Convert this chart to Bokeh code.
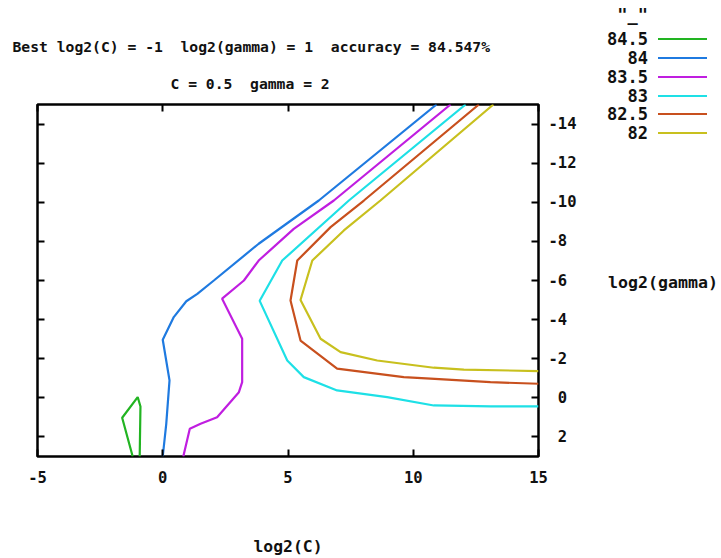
from bokeh.plotting import figure
from bokeh.layouts import row
from bokeh.models import Range1d, LinearAxis, FixedTicker, Title, Div
from bokeh.embed import file_html
from bokeh.resources import INLINE

# ---- data (log2(C), log2(gamma)) ----
levels = ["84.5", "84", "83.5", "83", "82.5", "82"]
colors = ["#22b422", "#1f7ae0", "#c01ee0", "#1ee0e6", "#c8501e", "#c8c01e"]

c845_x = [-1.2, -1.62, -1.0, -0.89, -0.92]
c845_y = [3.0, 1.02, -0.04, 0.44, 3.0]

c84_x = [0.0, 0.14, 0.27, 0.0, 0.44, 0.94, 1.38, 2.04, 3.83, 6.23, 10.93]
c84_y = [3.0, 1.33, -0.89, -2.97, -4.13, -4.94, -5.32, -6.0, -7.88, -10.09, -15.0]

c835_x = [0.82, 1.08, 1.51, 2.17, 3.04, 3.17, 3.17, 2.37, 3.24, 3.83, 5.23, 6.83, 11.49]
c835_y = [3.0, 1.58, 1.33, 0.99, -0.29, -0.8, -3.02, -5.07, -6.0, -7.02, -8.64, -10.09, -15.0]

c83_x = [15.0, 13.1, 10.82, 8.96, 6.96, 5.63, 4.97, 3.87, 4.77, 7.43, 12.09]
c83_y = [0.44, 0.44, 0.39, -0.04, -0.38, -1.06, -1.91, -4.96, -7.02, -10.09, -15.0]

c825_x = [15.0, 13.08, 10.69, 9.62, 6.96, 5.5, 5.1, 5.37, 6.7, 8.03, 12.62]
c825_y = [-0.72, -0.8, -0.98, -1.06, -1.49, -2.93, -4.98, -7.02, -8.73, -10.09, -15.0]

c82_x = [15.0, 12.02, 10.82, 8.56, 7.10, 6.30, 5.5, 5.97, 7.23, 8.69, 13.2]
c82_y = [-1.37, -1.44, -1.54, -1.91, -2.34, -3.02, -5.0, -7.02, -8.56, -10.09, -15.0]

x_ticks = [-5, 0, 5, 10, 15]
x_tick_labels = ["-5", "0", "5", "10", "15"]
y_ticks = [-14, -12, -10, -8, -6, -4, -2, 0, 2]
y_tick_labels = ["-14", "-12", "-10", "-8", "-6", "-4", "-2", "0", "2"]

title1 = "Best log2(C) = -1  log2(gamma) = 1  accuracy = 84.547%"
title2 = "C = 0.5  gamma = 2"
xlabel = "log2(C)"
ylabel = "log2(gamma)"
legend_title = '"_"'

FONT = "DejaVu Sans Mono"
TXT = "#111111"


def keep_spaces(s):
    # SVG collapses runs of spaces; keep gnuplot's double spacing visible
    return s.replace("  ", "\u00a0 ")


p = figure(width=590, height=558, x_range=Range1d(-5, 15), y_range=Range1d(3, -15),
           output_backend="svg", toolbar_location=None,
           x_axis_location=None, y_axis_location=None,
           min_border_left=37, min_border_right=52, min_border_top=104, min_border_bottom=102)
p.grid.visible = False
p.outline_line_color = "black"
p.outline_line_width = 2.5
p.background_fill_color = "white"
p.border_fill_color = "white"


def style_axis(ax, show):
    ax.axis_line_color = None
    ax.major_tick_line_color = "black"
    ax.major_tick_line_width = 2
    ax.major_tick_in = 7
    ax.major_tick_out = 0
    ax.minor_tick_line_color = None
    ax.major_label_text_font = FONT
    ax.major_label_text_font_style = "bold"
    ax.major_label_text_font_size = "15.5px" if show else "0px"
    ax.major_label_text_color = TXT
    if not show:
        ax.major_label_standoff = 0


def centred(s, width=3):
    # gnuplot centres the right-hand tick labels; pad short ones (monospace font)
    pad = (width - len(s)) // 2
    return "\u00a0" * pad + s


xb = LinearAxis(ticker=FixedTicker(ticks=x_ticks),
                major_label_overrides={t: s for t, s in zip(x_ticks, x_tick_labels)})
style_axis(xb, True)
xb.major_label_standoff = 14
xb.axis_label = xlabel
xb.axis_label_text_font = FONT
xb.axis_label_text_font_style = "bold"
xb.axis_label_text_font_size = "16.4px"
xb.axis_label_text_color = TXT
xb.axis_label_standoff = 51
p.add_layout(xb, "below")

xt = LinearAxis(ticker=FixedTicker(ticks=x_ticks),
                major_label_overrides={t: "" for t in x_ticks})
style_axis(xt, False)
p.add_layout(xt, "above")

yr = LinearAxis(ticker=FixedTicker(ticks=y_ticks),
                major_label_overrides={t: centred(s) for t, s in zip(y_ticks, y_tick_labels)})
style_axis(yr, True)
yr.major_label_standoff = 10
p.add_layout(yr, "right")

yl = LinearAxis(ticker=FixedTicker(ticks=y_ticks),
                major_label_overrides={t: "" for t in y_ticks})
style_axis(yl, False)
p.add_layout(yl, "left")

series = [(c845_x, c845_y), (c84_x, c84_y), (c835_x, c835_y),
          (c83_x, c83_y), (c825_x, c825_y), (c82_x, c82_y)]
for (xs, ys), col in zip(series, colors):
    p.line(xs, ys, line_color=col, line_width=2.2)

p.add_layout(Title(text=keep_spaces(title2), align="left", offset=133, standoff=26,
                   text_font=FONT, text_font_style="bold", text_font_size="14.7px",
                   text_color=TXT), "above")
p.add_layout(Title(text=keep_spaces(title1), align="left", offset=-25, standoff=9,
                   text_font=FONT, text_font_style="bold", text_font_size="14.7px",
                   text_color=TXT), "above")

# ---- key and y-axis title strip (gnuplot style: text right-aligned left of key line) ----
base = ("position:absolute;line-height:1;white-space:pre;transform:translateY(-50%);"
        "font-family:'DejaVu Sans Mono';font-weight:bold;color:#111111;")
parts = ['<div style="position:relative;width:131px;height:558px;overflow:hidden;background:white;">']
parts.append(f'<div style="{base}right:73px;top:15px;font-size:17px;">{legend_title}</div>')
for i, (lev, col) in enumerate(zip(levels, colors)):
    yc = 39 + 18.85 * i
    parts.append(f'<div style="{base}right:73px;top:{yc:.1f}px;font-size:17px;">{lev}</div>')
    parts.append(f'<div style="position:absolute;left:68px;top:{yc - 1:.1f}px;width:49px;'
                 f'height:0;border-top:2px solid {col};"></div>')
parts.append(f'<div style="{base}left:18px;top:283px;font-size:16.6px;">{ylabel}</div>')
parts.append('</div>')
side = Div(text="".join(parts), width=131, height=558, margin=0)

layout = row(p, side, spacing=0)
open("out.html", "w").write(file_html(layout, INLINE))
